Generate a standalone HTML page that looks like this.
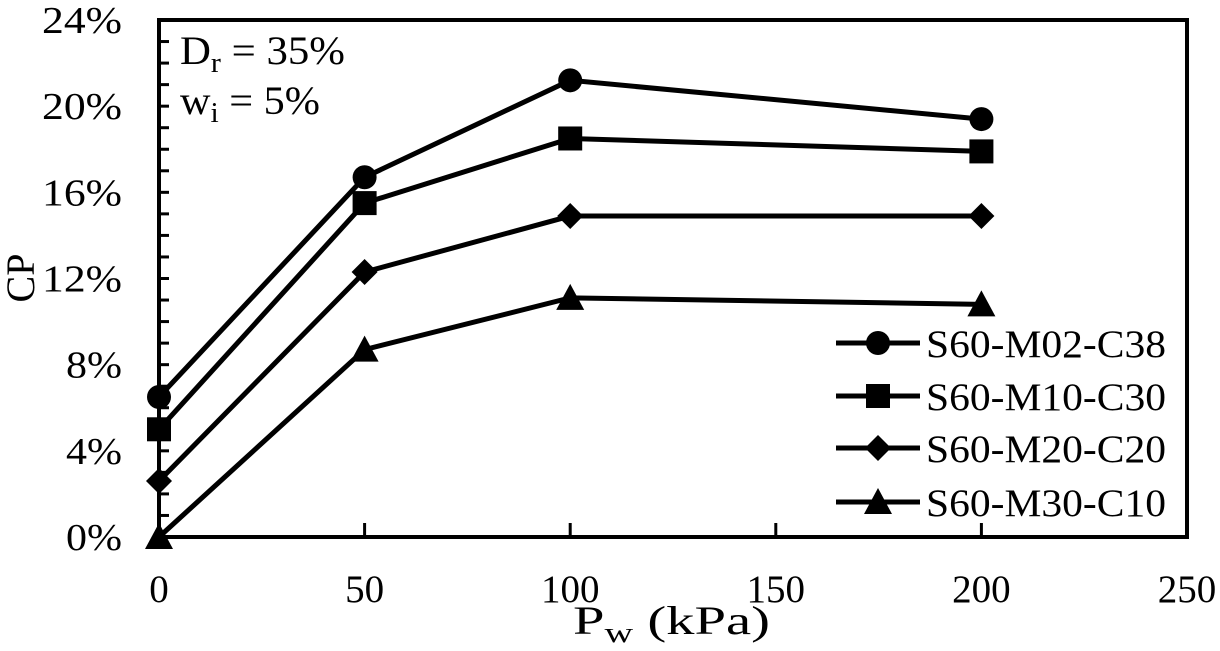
<!DOCTYPE html>
<html><head><meta charset="utf-8"><style>
body{margin:0;background:#fff}
svg text{font-family:"Liberation Serif",serif;fill:#000}
</style></head><body>
<svg width="1220" height="646" viewBox="0 0 1220 646">
<g id="axes"></g>
<g id="series"></g>
<g id="legend"></g>
<text x="180" y="64" font-size="40" textLength="165" lengthAdjust="spacingAndGlyphs">D<tspan font-size="28" dy="8">r</tspan><tspan dy="-8"> = 35%</tspan></text>
<text x="180" y="114" font-size="40" textLength="140" lengthAdjust="spacingAndGlyphs">w<tspan font-size="28" dy="8">i</tspan><tspan dy="-8"> = 5%</tspan></text>
<text x="573" y="634" font-size="40" textLength="197" lengthAdjust="spacingAndGlyphs">P<tspan font-size="28" dy="8">w</tspan><tspan dy="-8"> (kPa)</tspan></text>
<text transform="translate(34,278) rotate(-90)" font-size="40" text-anchor="middle">CP</text>
</svg>
<script>
const xValues=[0,50,100,200];
const seriesNames=["S60-M02-C38","S60-M10-C30","S60-M20-C20","S60-M30-C10"];
const seriesMarkers=["circle","square","diamond","triangle"];
const sM02=[6.5,16.7,21.2,19.4];
const sM10=[5.0,15.5,18.5,17.9];
const sM20=[2.6,12.3,14.9,14.9];
const sM30=[0.0,8.7,11.1,10.8];
const xTicks=[0,50,100,150,200,250];
const yTicks=[0,4,8,12,16,20,24];
const allSeries=[sM02,sM10,sM20,sM30];
const NS="http://www.w3.org/2000/svg";
const X0=159,X1=1187,Y0=537,Y1=20;
const sx=v=>X0+(v-0)/(250-0)*(X1-X0);
const sy=v=>Y0-(v-0)/(24-0)*(Y0-Y1);
function mk(tag,attrs,parent){const e=document.createElementNS(NS,tag);for(const k in attrs)e.setAttribute(k,attrs[k]);parent.appendChild(e);return e;}
const ax=document.getElementById('axes');
let f=mk('rect',{x:X0,y:Y1,width:X1-X0,height:Y0-Y1,fill:'none',stroke:'#000','stroke-width':4},ax);


for(let v=1;v<24;v++){let t=mk('line',{x1:X0,x2:X0+10,y1:sy(v),y2:sy(v),stroke:'#000','stroke-width':3},ax);

}
yTicks.forEach(v=>{const s=v+'%';let t=mk('text',{x:122-(s.length===2?56:80),y:sy(v)+13,'font-size':38,textLength:(s.length===2?56:80),lengthAdjust:'spacingAndGlyphs'},ax);t.textContent=s;

});
xTicks.forEach(v=>{if(v>0&&v<250){let l=mk('line',{x1:sx(v),x2:sx(v),y1:Y0,y2:Y0-14,stroke:'#000','stroke-width':3},ax);

}
let t=mk('text',{x:sx(v),y:602,'font-size':39,'text-anchor':'middle'},ax);t.textContent=v;

});
function marker(type,x,y,parent){
 let e;
 if(type==='circle')e=mk('circle',{cx:x,cy:y,r:12},parent);
 else if(type==='square')e=mk('rect',{x:x-12,y:y-12,width:24,height:24},parent);
 else if(type==='diamond')e=mk('polygon',{points:`${x},${y-13} ${x+13},${y} ${x},${y+13} ${x-13},${y}`},parent);
 else e=mk('polygon',{points:`${x},${y-14} ${x+14},${y+12} ${x-14},${y+12}`},parent);
 e.setAttribute('fill','#000');return e;}
const sg=document.getElementById('series');
allSeries.forEach((s,i)=>{
 let g=mk('g',{},sg);
 
 
 let p=mk('polyline',{points:s.map((v,j)=>sx(xValues[j])+','+sy(v)).join(' '),fill:'none',stroke:'#000','stroke-width':5},g);
 
 
 s.forEach((v,j)=>{let m=marker(seriesMarkers[i],sx(xValues[j]),sy(v),g);
 
 });
});
const lg=document.getElementById('legend');
const rows=[343,396,448,502];
seriesNames.forEach((n,i)=>{
 let g=mk('g',{},lg);
 
 
 mk('line',{x1:836,x2:920,y1:rows[i],y2:rows[i],stroke:'#000','stroke-width':5},g);
 marker(seriesMarkers[i],878,rows[i],g);
 let t=mk('text',{x:926,y:rows[i]+14,'font-size':39,textLength:240,lengthAdjust:'spacingAndGlyphs'},g);t.textContent=n;
});
</script>
</body></html>
